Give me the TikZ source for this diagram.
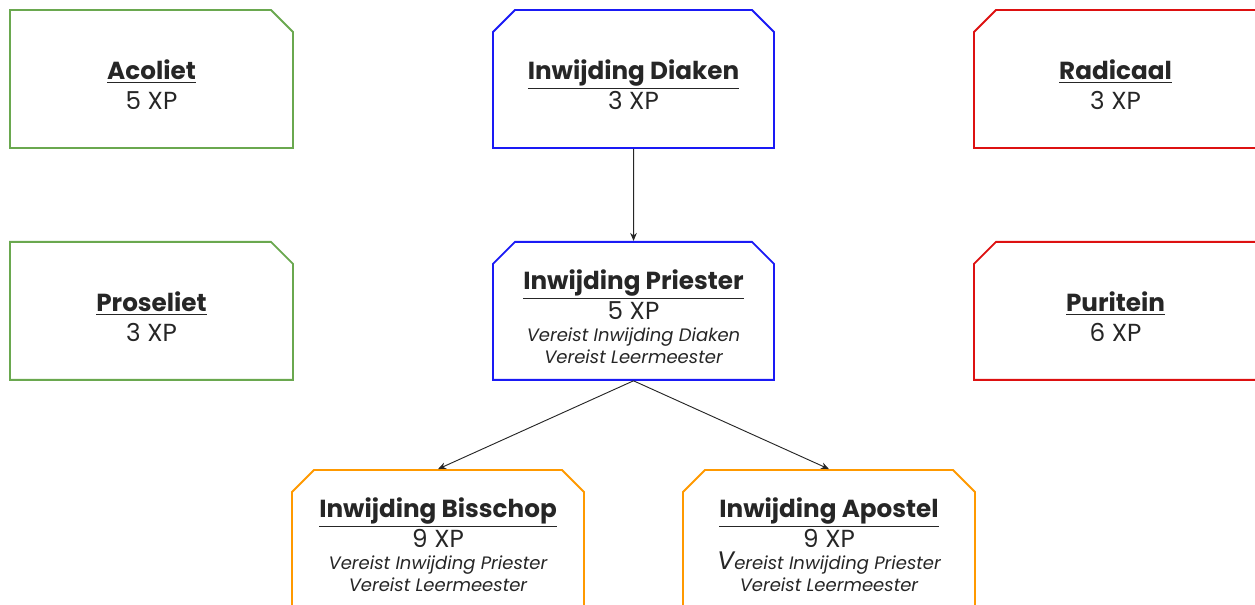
\documentclass[tikz,border=0pt]{standalone}
\usepackage{fontspec}
\setmainfont{Poppins}
\usetikzlibrary{shapes.misc,arrows.meta,positioning}

\definecolor{perkgreen}{HTML}{6AA84F}
\definecolor{perkblue}{HTML}{1A1AF5}
\definecolor{perkred}{HTML}{DD1111}
\definecolor{perkorange}{HTML}{FF9900}

\newcommand{\perkname}[1]{\rule{0pt}{24pt}\underline{\textbf{#1}}}
\newcommand{\req}[1]{{\fontsize{13.5}{16}\selectfont\itshape #1}}

\begin{document}
\begin{tikzpicture}[
    x=0.75pt, y=-0.75pt,
    node distance=69pt,
    perk/.style={chamfered rectangle, chamfered rectangle xsep=8.25pt, chamfered rectangle ysep=8.25pt,
        draw, line width=1.4pt, fill=white, minimum width=212.25pt, minimum height=103.5pt,
        inner sep=0pt, align=center, text=black!85, font=\fontsize{18.5}{22.5}\selectfont},
    light/.style={perk, draw=perkgreen, chamfered rectangle corners=north east},
    dark/.style={perk, draw=perkred, chamfered rectangle corners=north west},
    rank/.style={perk, draw=perkblue, minimum width=210.75pt, chamfered rectangle corners={north west, north east}},
    high/.style={perk, draw=perkorange, minimum width=219pt, chamfered rectangle corners={north west, north east}},
    arrow/.style={-{Stealth[length=6pt,width=5pt]}, line width=0.7pt, black!85}
]
    \useasboundingbox (0,0) rectangle (1255,605);

    \node[light] (acoliet) at (151.5,79) {\perkname{Acoliet}\\5 XP};
    \node[light, below=of acoliet] (proseliet) {\perkname{Proseliet}\\3 XP};

    \node[rank] (diaken) at (633.5,79) {\perkname{Inwijding Diaken}\\3 XP};
    \node[rank, below=of diaken] (priester) {\perkname{Inwijding Priester}\\5 XP\\[-6pt]
        \req{Vereist Inwijding Diaken}\\[-6pt] \req{Vereist Leermeester}};

    \node[dark] (radicaal) at (1115.5,79) {\perkname{Radicaal}\\3 XP};
    \node[dark, below=of radicaal] (puritein) {\perkname{Puritein}\\6 XP};

    \node[high] (bisschop) at (438,539) {\perkname{Inwijding Bisschop}\\9 XP\\[-6pt]
        \req{Vereist Inwijding Priester}\\[-6pt] \req{Vereist Leermeester}};
    \node[high] (apostel) at (829,539) {\perkname{Inwijding Apostel}\\9 XP\\[-6pt]
        \req{{\fontsize{19}{16}\selectfont V}ereist Inwijding Priester}\\[-6pt] \req{Vereist Leermeester}};

    \draw[arrow] (diaken) -- (priester);
    \draw[arrow] (priester.south) -- (bisschop.north);
    \draw[arrow] (priester.south) -- (apostel.north);
\end{tikzpicture}
\end{document}
